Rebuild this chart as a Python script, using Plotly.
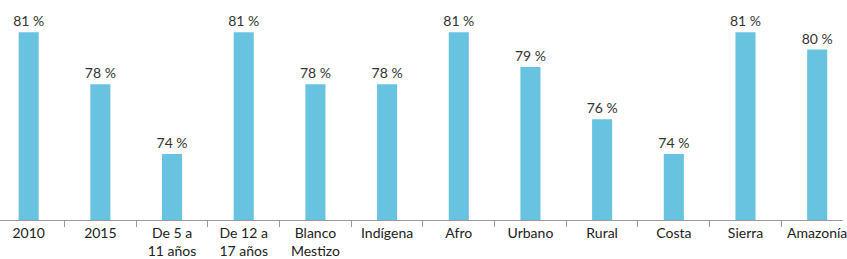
import plotly.graph_objects as go

categories = ["2010", "2015", "De 5 a<br>11 años", "De 12 a<br>17 años", "Blanco<br>Mestizo",
              "Indígena", "Afro", "Urbano", "Rural", "Costa", "Sierra", "Amazonía"]
values = [81, 78, 74, 81, 78, 78, 81, 79, 76, 74, 81, 80]
labels = [f"{v} %" for v in values]

fig = go.Figure(go.Bar(
    x=categories, y=values, text=labels, textposition="outside",
    constraintext="none",
    marker=dict(color="#67c3e0", line=dict(width=0)),
    textfont=dict(family="Lato, sans-serif", size=14, color="#333333"),
    cliponaxis=False,
))

fig.update_layout(
    width=847, height=259,
    margin=dict(l=0, r=0, t=0, b=39),
    paper_bgcolor="white", plot_bgcolor="white",
    bargap=0.72, showlegend=False,
    font=dict(family="Lato, sans-serif", size=14, color="#222222"),
)
fig.update_xaxes(
    range=[-0.40, 11.36], tickson="boundaries", ticks="outside", ticklen=6,
    tickcolor="#9a9a9a", showline=True, linecolor="#9a9a9a", linewidth=1,
    showgrid=False, tickfont=dict(family="Lato, sans-serif", size=14, color="#222222"),
)
fig.update_yaxes(range=[70.2, 82.85], visible=False, showgrid=False)

fig.write_html("out.html")
